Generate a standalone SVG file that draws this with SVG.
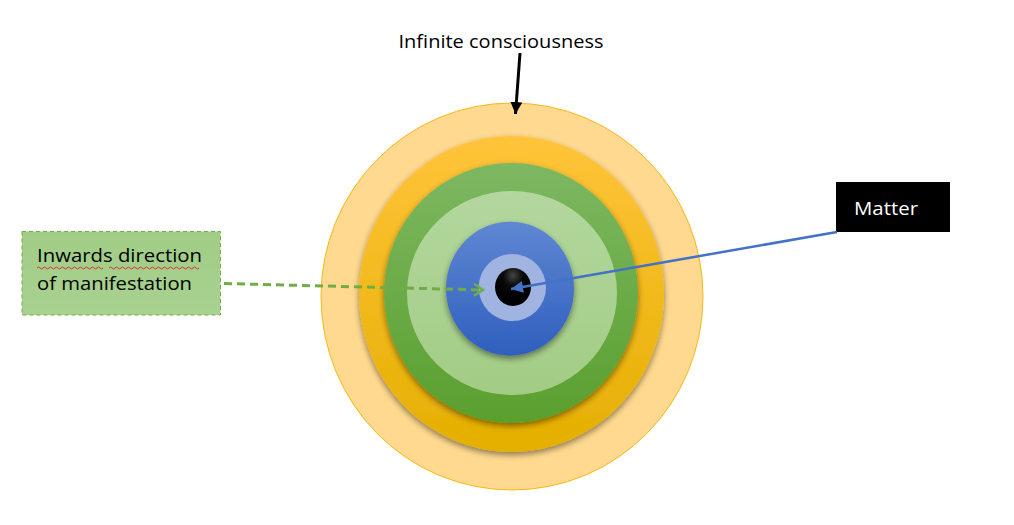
<svg xmlns="http://www.w3.org/2000/svg" width="1014" height="525" viewBox="0 0 1014 525">
<style>
.lbl{font-family:"Open Sans","Liberation Sans",Arial,sans-serif;font-size:19px;fill:#000}
</style>
<defs>
<linearGradient id="gOrange" x1="0" y1="0" x2="0" y2="1"><stop offset="0" stop-color="#FFC43A"/><stop offset="1" stop-color="#E5AF00"/></linearGradient>
<linearGradient id="gGreen" x1="0" y1="0" x2="0" y2="1"><stop offset="0" stop-color="#7DB862"/><stop offset="1" stop-color="#5A9F2E"/></linearGradient>
<linearGradient id="gLGreen" x1="0" y1="0" x2="0" y2="1"><stop offset="0" stop-color="#B3D79E"/><stop offset="1" stop-color="#A2CC85"/></linearGradient>
<linearGradient id="gBlue" x1="0" y1="0" x2="0" y2="1"><stop offset="0" stop-color="#5F87D2"/><stop offset="1" stop-color="#2F5FBE"/></linearGradient>
<radialGradient id="gBlack" cx="0.5" cy="0.2" r="0.6"><stop offset="0" stop-color="#444"/><stop offset="0.45" stop-color="#0a0a0a"/><stop offset="1" stop-color="#000"/></radialGradient>
<linearGradient id="gBox" x1="0" y1="0" x2="0" y2="1"><stop offset="0" stop-color="#A0CD86"/><stop offset="1" stop-color="#A9D190"/></linearGradient>
<filter id="sh" x="-20%" y="-20%" width="140%" height="140%"><feGaussianBlur in="SourceAlpha" stdDeviation="3"/><feOffset dy="3"/><feComponentTransfer><feFuncA type="linear" slope="0.45"/></feComponentTransfer><feMerge><feMergeNode/><feMergeNode in="SourceGraphic"/></feMerge></filter>
<marker id="mBlack" markerWidth="12" markerHeight="12" refX="10" refY="5" orient="auto" markerUnits="userSpaceOnUse" viewBox="0 0 10 10"><path d="M0,0 L10,5 L0,10 z" fill="#000"/></marker>
<marker id="mBlue" markerWidth="14" markerHeight="12" refX="10" refY="5" orient="auto" markerUnits="userSpaceOnUse" viewBox="0 0 10 10"><path d="M0,0 L10,5 L0,10 z" fill="#4472C4"/></marker>
<marker id="mGreen" markerWidth="14" markerHeight="14" refX="10" refY="7" orient="auto" markerUnits="userSpaceOnUse" viewBox="0 0 14 14"><path d="M1,1 L10,7 L1,13" fill="none" stroke="#70AD47" stroke-width="2.5"/></marker>
</defs>
<rect width="1014" height="525" fill="#fff"/>
<g id="rings">
<ellipse id="ring-outer" cx="512" cy="296.5" rx="191" ry="193.5" fill="#FFD98F" stroke="#F5B914" stroke-width="1"/>
<ellipse id="ring-orange" cx="511.5" cy="294" rx="152.5" ry="158" fill="url(#gOrange)" filter="url(#sh)"/>
<ellipse id="ring-green" cx="511" cy="293" rx="127" ry="130" fill="url(#gGreen)" filter="url(#sh)"/>
<ellipse id="ring-lightgreen" cx="512" cy="293" rx="105" ry="102" fill="url(#gLGreen)"/>
<ellipse id="ring-blue" cx="510" cy="288.7" rx="64" ry="67" fill="url(#gBlue)" filter="url(#sh)"/>
<ellipse id="ring-lightblue" cx="512.3" cy="287.5" rx="33.7" ry="33.5" fill="#A0B3E1"/>
<ellipse id="core" cx="513" cy="287" rx="18" ry="19" fill="url(#gBlack)"/>
</g>
<g id="node-infinite">
<text class="lbl" x="501" y="48" text-anchor="middle" textLength="205" lengthAdjust="spacingAndGlyphs">Infinite consciousness</text>
</g>
<g id="node-inwards">
<rect x="22" y="231.5" width="198.5" height="83.5" fill="url(#gBox)" stroke="#70AD47" stroke-width="1" stroke-dasharray="4,3"/>
<text class="lbl" x="37" y="262" textLength="165" lengthAdjust="spacingAndGlyphs">Inwards direction</text>
<text class="lbl" x="37" y="290" textLength="155" lengthAdjust="spacingAndGlyphs">of manifestation</text>
<path d="M37,268 q1.5,-2 3,0 t3,0 t3,0 t3,0 t3,0 t3,0 t3,0 t3,0 t3,0 t3,0 t3,0 t3,0 t3,0 t3,0 t3,0 t3,0 t3,0 t3,0 t3,0 t3,0 t3,0 t3,0" fill="none" stroke="#E03030" stroke-width="1"/>
<path d="M109,268 q1.5,-2 3,0 t3,0 t3,0 t3,0 t3,0 t3,0 t3,0 t3,0 t3,0 t3,0 t3,0 t3,0 t3,0 t3,0 t3,0 t3,0 t3,0 t3,0 t3,0 t3,0 t3,0 t3,0 t3,0 t3,0 t3,0 t3,0 t3,0 t3,0 t3,0 t3,0" fill="none" stroke="#E03030" stroke-width="1"/>
</g>
<g id="node-matter">
<rect x="836" y="182" width="114" height="50" fill="#000"/>
<text x="854" y="215" font-family="Open Sans, Liberation Sans, Arial, sans-serif" font-size="19" fill="#fff" textLength="64" lengthAdjust="spacingAndGlyphs">Matter</text>
</g>
<g id="connectors">
<line x1="520" y1="53" x2="515.5" y2="114" stroke="#000" stroke-width="3" marker-end="url(#mBlack)"/>
<line x1="224" y1="283.5" x2="483" y2="290" stroke="#70AD47" stroke-width="3" stroke-dasharray="8,5" marker-end="url(#mGreen)"/>
<line x1="837" y1="232" x2="511" y2="289" stroke="#4472C4" stroke-width="2.5" marker-end="url(#mBlue)"/>
</g>
</svg>
